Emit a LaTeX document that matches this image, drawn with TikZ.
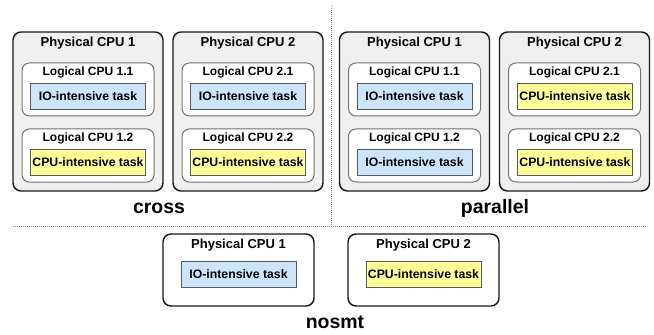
\documentclass[tikz,border=0pt]{standalone}
\usepackage{fontspec}
\setmainfont{Liberation Sans}
\usetikzlibrary{positioning}

\definecolor{physfill}{HTML}{EFEFEF}
\definecolor{iofill}{HTML}{CCE4FC}
\definecolor{cpufill}{HTML}{FFFF99}

\tikzset{
  physbox/.style={draw=black!90, line width=1.1pt, fill=physfill,
    rounded corners=6pt, minimum width=112.5pt, minimum height=119.25pt, inner sep=0pt},
  nosmtbox/.style={physbox, fill=white, minimum width=113.25pt, minimum height=54pt},
  logicbox/.style={draw=black!55, line width=0.75pt, fill=white,
    rounded corners=5.5pt, minimum width=99pt, minimum height=39.75pt, inner sep=0pt},
  tasknode/.style={draw=black!65, line width=0.6pt, minimum width=86.25pt,
    minimum height=19.5pt, inner sep=0pt, font=\fontsize{9.2}{10}\selectfont\bfseries},
  IO task/.style={tasknode, fill=iofill},
  CPU task/.style={tasknode, fill=cpufill},
  phystext/.style={inner sep=0pt, font=\fontsize{9.75}{11}\selectfont\bfseries},
  logictext/.style={inner sep=0pt, font=\fontsize{9}{10}\selectfont\bfseries},
  caption/.style={inner sep=0pt, font=\fontsize{14.6}{16}\selectfont\bfseries},
  divider/.style={draw=black!45, line width=0.75pt, dash pattern=on 0.75pt off 0.75pt},
}

\begin{document}
\begin{tikzpicture}[x=0.75pt,y=-0.75pt]
  \useasboundingbox (0,0) rectangle (654,335);

  % separators between the three layouts
  \coordinate (hl) at (13,226);
  \coordinate (hr) at (647,226);
  \coordinate (vt) at (331,6);
  \coordinate (vb) at (331,226);
  \draw[divider] (hl) -- (hr);
  \draw[divider] (vt) -- (vb);

  % smt layouts: two physical cpus with two logical cpus each
  \foreach \g/\dx/\lab/\lx in {x/0/cross/159,p/326.5/parallel/495}{
    \foreach \c/\cx in {1/88,2/248}{
      \node[physbox] (\g phys\c) at (\cx+\dx,111.5) {};
      \node[phystext] (\g phys\c t) at (\cx+\dx,43) {Physical CPU \c};
      \foreach \l/\ly in {1/89.5,2/155.5}{
        \node[logicbox] (\g log\c\l) at (\cx+\dx,\ly) {};
        \node[logictext] (\g log\c\l t) at (\cx+\dx,\ly-17.5) {Logical CPU \c.\l};
      }
    }
    \node[caption] (\g cap) at (\lx,208) {\lab};
  }

  % nosmt: one task per physical cpu
  \foreach \c/\cx in {1/238.5,2/423.5}{
    \node[nosmtbox] (nphys\c) at (\cx,270) {};
    \node[phystext] (nphys\c t) at (\cx,245) {Physical CPU \c};
  }
  \node[caption] (ncap) at (335,322) {nosmt};

  % tasks
  \foreach \n/\x/\y/\k in {x11/88/96/IO, x12/88/162.5/CPU,
      x21/248/96/IO, x22/248/162.5/CPU,
      p11/414.5/96/IO, p12/414.5/162.5/IO,
      p21/575/96/CPU, p22/575/162.5/CPU,
      n1/238.5/274.5/IO, n2/423.5/274.5/CPU}
    \node[\k\space task] (task\n) at (\x,\y) {\k-intensive task};
\end{tikzpicture}
\end{document}
